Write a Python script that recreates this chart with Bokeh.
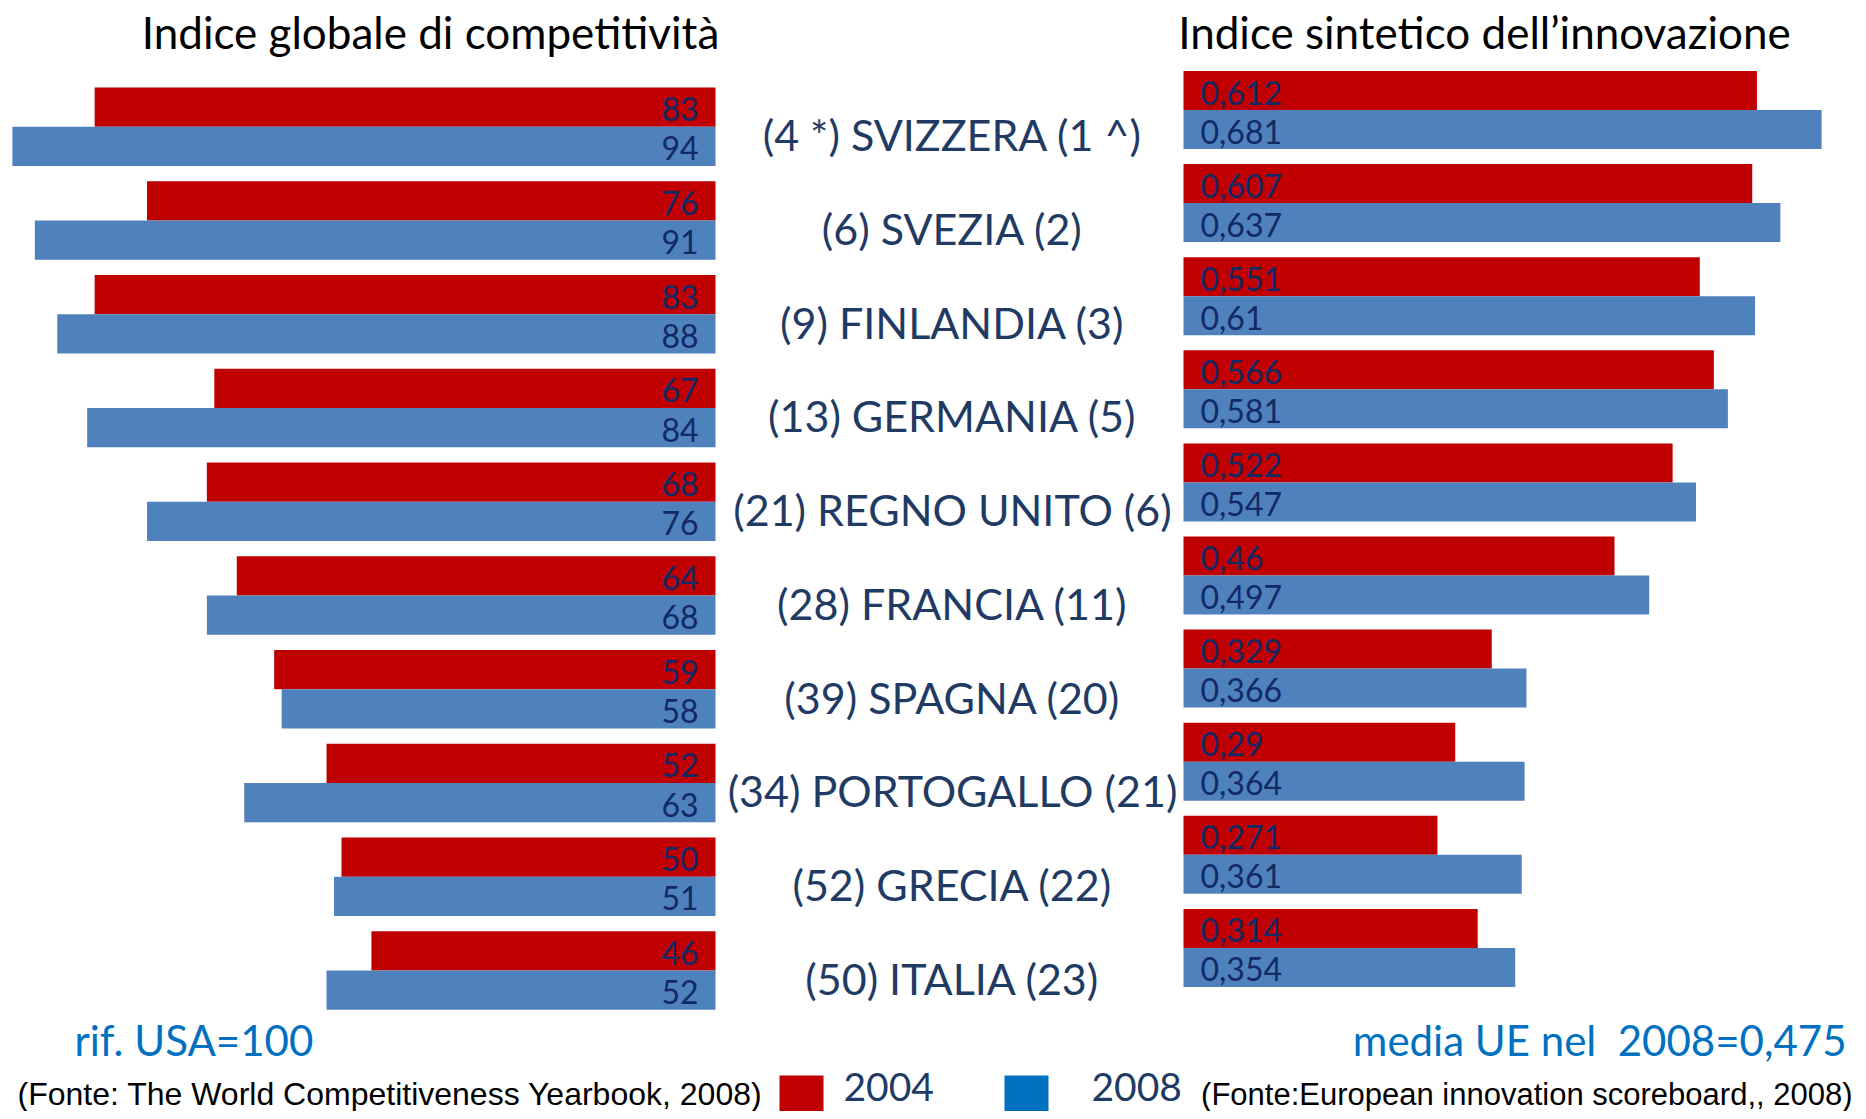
from bokeh.plotting import figure
from bokeh.models import Range1d
from bokeh.core.properties import value
from bokeh.embed import file_html
from bokeh.resources import INLINE

countries = ["(4 *) SVIZZERA (1 ^)", "(6) SVEZIA (2)", "(9) FINLANDIA (3)", "(13) GERMANIA (5)",
             "(21) REGNO UNITO (6)", "(28) FRANCIA (11)", "(39) SPAGNA (20)", "(34) PORTOGALLO (21)",
             "(52) GRECIA (22)", "(50) ITALIA (23)"]
comp_2004 = [83, 76, 83, 67, 68, 64, 59, 52, 50, 46]
comp_2008 = [94, 91, 88, 84, 76, 68, 58, 63, 51, 52]
inno_2004 = [0.612, 0.607, 0.551, 0.566, 0.522, 0.46, 0.329, 0.29, 0.271, 0.314]
inno_2008 = [0.681, 0.637, 0.61, 0.581, 0.547, 0.497, 0.366, 0.364, 0.361, 0.354]
years = ["2004", "2008"]
title_left = "Indice globale di competitività"
title_right = "Indice sintetico dell\u2019innovazione"
note_left = "rif. USA=100"
note_right = "media UE nel\u00a0 2008=0,475"
src_left = "(Fonte: The World Competitiveness Yearbook, 2008)"
src_right = "(Fonte:European innovation scoreboard,, 2008)"

RED = "#C00000"
BLUE = "#4F81BD"
LEG_BLUE = "#0070C0"
NAVY = "#112A66"
LABEL = "#1F3B64"
FONT = "Lato"

W, H = 1858, 1111
p = figure(width=W, height=H, x_range=Range1d(0, W), y_range=Range1d(H, 0),
           output_backend="svg", toolbar_location=None, min_border=0,
           x_axis_location=None, y_axis_location=None)
p.grid.visible = False
p.outline_line_color = None
p.background_fill_color = "white"

# competitiveness axis: zero at px 715, 7.48 px per unit, growing leftwards
c0, cs = 715.0, 7.48
inn0, ins = 1183.0, 937.0
p.extra_x_ranges = {
    "comp": Range1d(c0 / cs, (c0 - W) / cs),
    "inno": Range1d(-inn0 / ins, (W - inn0) / ins),
}
l0, lp = 126.2, 93.75
r0, rp = 109.5, 93.1
p.extra_y_ranges = {
    "lrow": Range1d((H - l0) / lp, -l0 / lp),
    "rrow": Range1d((H - r0) / rp, -r0 / rp),
}

n = len(countries)
idx = list(range(n))
hl = 39.3 / lp
hr = 39.0 / rp

# left bars
p.hbar(y=[i - hl / 2 for i in idx], left=0, right=comp_2004, height=hl,
       x_range_name="comp", y_range_name="lrow", fill_color=RED, line_color=None)
p.hbar(y=[i + hl / 2 for i in idx], left=0, right=comp_2008, height=hl,
       x_range_name="comp", y_range_name="lrow", fill_color=BLUE, line_color=None)
p.text(x=[0] * n, y=[i - hl / 2 for i in idx], text=[str(v) for v in comp_2004],
       x_range_name="comp", y_range_name="lrow", x_offset=-17, y_offset=2,
       text_align="right", text_baseline="middle", text_color=NAVY,
       text_font=value(FONT), text_font_size="32px")
p.text(x=[0] * n, y=[i + hl / 2 for i in idx], text=[str(v) for v in comp_2008],
       x_range_name="comp", y_range_name="lrow", x_offset=-17, y_offset=2,
       text_align="right", text_baseline="middle", text_color=NAVY,
       text_font=value(FONT), text_font_size="32px")

# right bars
p.hbar(y=[i - hr / 2 for i in idx], left=0, right=inno_2004, height=hr,
       x_range_name="inno", y_range_name="rrow", fill_color=RED, line_color=None)
p.hbar(y=[i + hr / 2 for i in idx], left=0, right=inno_2008, height=hr,
       x_range_name="inno", y_range_name="rrow", fill_color=BLUE, line_color=None)
fmt = lambda v: str(v).replace(".", ",")
p.text(x=[0] * n, y=[i - hr / 2 for i in idx], text=[fmt(v) for v in inno_2004],
       x_range_name="inno", y_range_name="rrow", x_offset=17, y_offset=2,
       text_align="left", text_baseline="middle", text_color=NAVY,
       text_font=value(FONT), text_font_size="32px")
p.text(x=[0] * n, y=[i + hr / 2 for i in idx], text=[fmt(v) for v in inno_2008],
       x_range_name="inno", y_range_name="rrow", x_offset=17, y_offset=2,
       text_align="left", text_baseline="middle", text_color=NAVY,
       text_font=value(FONT), text_font_size="32px")

# country labels
p.text(x=[952] * n, y=[i + 0.085 for i in idx], text=countries, y_range_name="lrow",
       text_align="center", text_baseline="middle", text_color=LABEL,
       text_font=value(FONT), text_font_size="43px")

# titles
p.text(x=[430, 1484], y=[31, 31], text=[title_left, title_right],
       text_align="center", text_baseline="middle", text_color="black",
       text_font=value(FONT), text_font_size="44px")

# notes
p.text(x=[74], y=[1039], text=[note_left], text_align="left", text_baseline="middle",
       text_color=LEG_BLUE, text_font=value(FONT), text_font_size="42px")
p.text(x=[1846], y=[1039], text=[note_right], text_align="right", text_baseline="middle",
       text_color=LEG_BLUE, text_font=value(FONT), text_font_size="42px")

# sources
p.text(x=[17], y=[1093], text=[src_left], text_align="left", text_baseline="middle",
       text_color="black", text_font=value("Liberation Sans"), text_font_size="32px")
p.text(x=[1852], y=[1094], text=[src_right], text_align="right", text_baseline="middle",
       text_color="black", text_font=value("Liberation Sans"), text_font_size="31px")

# legend
p.rect(x=[801, 1026], y=[1097, 1097], width=44, height=44, fill_color=[RED, LEG_BLUE],
       line_color=None)
p.text(x=[843, 1091], y=[1086, 1086], text=years, text_align="left", text_baseline="middle",
       text_color=LABEL, text_font=value(FONT), text_font_size="39px")

open("out.html", "w").write(file_html(p, INLINE))
